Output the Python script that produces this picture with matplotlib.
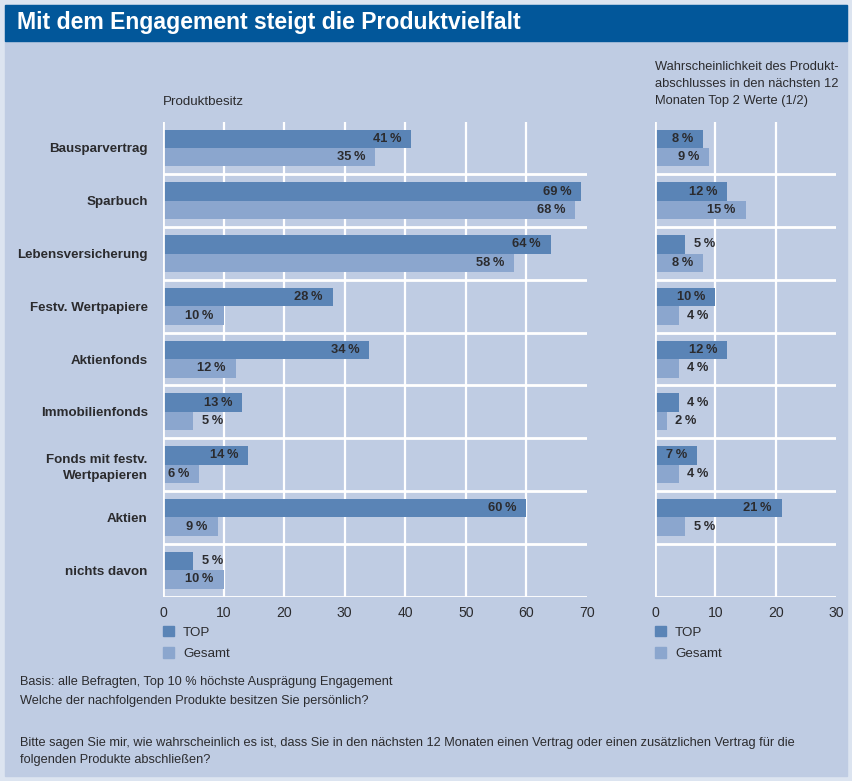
"""Produktbesitz vs. Abschlusswahrscheinlichkeit, TOP vs. Gesamt"""

import matplotlib
matplotlib.use("Agg")
import matplotlib.pyplot as plt
from matplotlib import font_manager
from matplotlib.patches import Rectangle, Patch

categories = [
    "Bausparvertrag",
    "Sparbuch",
    "Lebensversicherung",
    "Festv. Wertpapiere",
    "Aktienfonds",
    "Immobilienfonds",
    "Fonds mit festv.\nWertpapieren",
    "Aktien",
    "nichts davon",
]
besitz_top = [41, 69, 64, 28, 34, 13, 14, 60, 5]
besitz_gesamt = [35, 68, 58, 10, 12, 5, 6, 9, 10]
# "nichts davon" has no value in the right panel
abschluss_top = [8, 12, 5, 10, 12, 4, 7, 21]
abschluss_gesamt = [9, 15, 8, 4, 4, 2, 4, 5]
series_names = ["TOP", "Gesamt"]
left_ticks = [0, 10, 20, 30, 40, 50, 60, 70]
right_ticks = [0, 10, 20, 30]

TITLE = "Mit dem Engagement steigt die Produktvielfalt"
LEFT_TITLE = "Produktbesitz"
RIGHT_TITLE = ("Wahrscheinlichkeit des Produkt-\n"
               "abschlusses in den nächsten 12\n"
               "Monaten Top 2 Werte (1/2)")
NOTE_1 = ("Basis: alle Befragten, Top 10 % höchste Ausprägung Engagement\n"
          "Welche der nachfolgenden Produkte besitzen Sie persönlich?")
NOTE_2 = ("Bitte sagen Sie mir, wie wahrscheinlich es ist, dass Sie in den nächsten 12 "
          "Monaten einen Vertrag oder einen zusätzlichen Vertrag für die\n"
          "folgenden Produkte abschließen?")

C_TOP = "#5a84b6"
C_GES = "#8ba6ce"
C_PANEL = "#bfcce3"
C_OUTER = "#dce4f0"
C_HEAD = "#02579a"
C_TEXT = "#2b2b2e"

# condensed face if available, otherwise shrink the regular one
names = {f.name for f in font_manager.fontManager.ttflist}
if "Liberation Sans Narrow" in names:
    FONT, S = "Liberation Sans Narrow", 1.0
else:
    FONT, S = "Liberation Sans", 0.84
plt.rcParams["font.family"] = [FONT, "DejaVu Sans"]

W, H = 852, 781
fig = plt.figure(figsize=(W / 100, H / 100), dpi=100)
fig.patch.set_facecolor(C_OUTER)


def fx(px):
    return px / W


def fy(py):
    return 1 - py / H


fig.add_artist(Rectangle((fx(5), fy(776)), fx(842), (776 - 5) / H,
                         transform=fig.transFigure, color=C_PANEL, zorder=0))
fig.add_artist(Rectangle((fx(5), fy(41)), fx(842), 36 / H,
                         transform=fig.transFigure, color=C_HEAD, zorder=0))
fig.text(fx(17), fy(22.5), TITLE, color="white", fontsize=19.7 * S,
         fontweight="bold", va="center", ha="left")

top_px, bot_px = 121.6, 596.5
ax_l = fig.add_axes([fx(163), fy(bot_px), fx(587 - 163), (bot_px - top_px) / H])
ax_r = fig.add_axes([fx(655), fy(bot_px), fx(836 - 655), (bot_px - top_px) / H])

BAR_H = 0.35


def panel(ax, top, ges, xmax, ticks, grid):
    ax.set_facecolor("none")
    for s in ax.spines.values():
        s.set_visible(False)
    ax.set_xlim(0, xmax)
    ax.set_ylim(len(categories) - 0.5, -0.5)

    for g in grid:
        ax.axvline(g, color="white", lw=1.6, zorder=1)
    ax.axvline(0, color="white", lw=2, zorder=3)
    for i in range(len(categories)):
        ax.axhline(i + 0.5, color="white", lw=2, zorder=1)

    ys = list(range(len(top)))
    ax.barh([y - BAR_H / 2 for y in ys], top, height=BAR_H, color=C_TOP, zorder=2)
    ax.barh([y + BAR_H / 2 for y in ys], ges, height=BAR_H, color=C_GES, zorder=2)

    for vals, off in ((top, -BAR_H / 2), (ges, BAR_H / 2)):
        for y, v in zip(ys, vals):
            inside = v >= 6
            ax.annotate(f"{v}\u2009%", (v, y + off),
                        xytext=(-7 if inside else 6, 0), textcoords="offset points",
                        ha="right" if inside else "left", va="center",
                        fontsize=11 * S, fontweight="bold", color=C_TEXT, zorder=4)

    ax.set_xticks(ticks)
    ax.tick_params(axis="x", length=0, pad=7, labelsize=12 * S, labelcolor=C_TEXT)

    handles = [Patch(color=C_TOP), Patch(color=C_GES)]
    ax.legend(handles, series_names, loc="upper left", bbox_to_anchor=(0, -0.062),
              frameon=False, fontsize=11.5 * S, handlelength=0.85, handleheight=0.8,
              handletextpad=0.65, labelspacing=0.65, borderpad=0, borderaxespad=0,
              labelcolor=C_TEXT)


panel(ax_l, besitz_top, besitz_gesamt, 70, left_ticks, left_ticks[1:-1])
panel(ax_r, abschluss_top, abschluss_gesamt, 30, right_ticks, right_ticks[1:-1])

ax_l.set_yticks(range(len(categories)))
ax_l.set_yticklabels(categories, fontsize=11.5 * S, fontweight="bold", color=C_TEXT,
                     linespacing=1.45)
ax_l.tick_params(axis="y", length=0, pad=11)
ax_r.set_yticks([])

fig.text(fx(163), fy(102), LEFT_TITLE, fontsize=11.5 * S, color=C_TEXT,
         va="center", ha="left")
fig.text(fx(655), fy(84), RIGHT_TITLE, fontsize=11 * S, color=C_TEXT,
         va="center", ha="left", linespacing=1.58)
fig.text(fx(20), fy(691.5), NOTE_1, fontsize=10.9 * S, color=C_TEXT,
         va="center", ha="left", linespacing=1.75)
fig.text(fx(20), fy(751.5), NOTE_2, fontsize=10.9 * S, color=C_TEXT,
         va="center", ha="left", linespacing=1.6)

fig.savefig("out.png", dpi=100, facecolor=fig.get_facecolor())
